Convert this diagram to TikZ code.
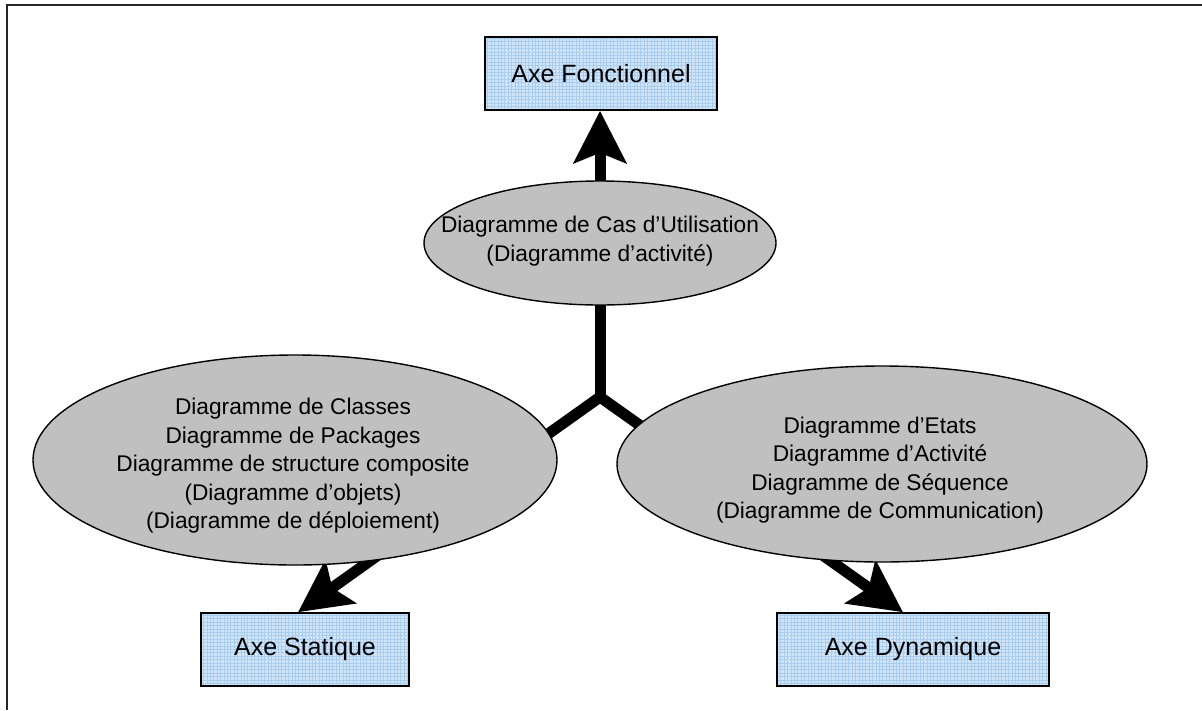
\documentclass[tikz,border=0pt]{standalone}
\usepackage{fontspec}
\setmainfont{Liberation Sans}
\usetikzlibrary{arrows.meta,shapes.geometric}
\definecolor{boxfill}{HTML}{D2E5F7}
\definecolor{boxgrid}{HTML}{A8CDEE}
\definecolor{ellfill}{HTML}{C0C0C0}
\tikzset{
  axebox/.style={draw=black, line width=1.6pt, fill=boxfill, inner sep=0pt,
    font=\fontsize{25}{29}\selectfont,
    path picture={\draw[boxgrid, line width=0.5pt, step=3.4pt]
      (path picture bounding box.south west) grid (path picture bounding box.north east);}},
  diagell/.style={draw=black, line width=1.4pt, fill=ellfill, ellipse, inner sep=0pt},
  elltext/.style={align=center, inner sep=0pt, font=\fontsize{22.7}{28.5}\selectfont},
  frameline/.style={line width=2pt, black!85},
}
\begin{document}
\begin{tikzpicture}[x=1pt, y=-1pt]
\useasboundingbox (0,0) rectangle (1202,710);
\draw[frameline] (7,710) -- (7,5) -- (1202,5);
% boxes
\node[axebox, minimum width=232pt, minimum height=73pt] (fonc) at (601,73.5) {Axe Fonctionnel};
\node[axebox, minimum width=208pt, minimum height=73pt] (stat) at (305,649.5) {Axe Statique};
\node[axebox, minimum width=272pt, minimum height=73pt] (dyn) at (913,649.5) {Axe Dynamique};
% connectors
\coordinate (j) at (600,397);
\draw[line width=11pt, black, -{Stealth[length=52pt, width=52pt, inset=10pt]}]
  (j) -- (fonc.south -| j);
\draw[line width=11pt, black, line join=miter,
  {Stealth[length=52pt, width=52pt, inset=10pt]}-{Stealth[length=52pt, width=52pt, inset=10pt]}]
  ([xshift=-7pt]stat.north) -- (j) -- ([xshift=-10pt]dyn.north);
% ellipses
\node[diagell, minimum width=352pt, minimum height=124pt] (uc) at (600,243) {};
\node[elltext] (uct) at (600,241) {Diagramme de Cas d’Utilisation\\(Diagramme d’activité)};
\node[diagell, minimum width=524pt, minimum height=210pt] (st) at (295,460) {};
\node[elltext] (stt) at (293,466) {Diagramme de Classes\\Diagramme de Packages\\Diagramme de structure composite\\(Diagramme d’objets)\\(Diagramme de déploiement)};
\node[diagell, minimum width=530pt, minimum height=196pt] (dy) at (882,464) {};
\node[elltext] (dyt) at (880,470) {Diagramme d’Etats\\Diagramme d’Activité\\Diagramme de Séquence\\(Diagramme de Communication)};
\end{tikzpicture}
\end{document}
